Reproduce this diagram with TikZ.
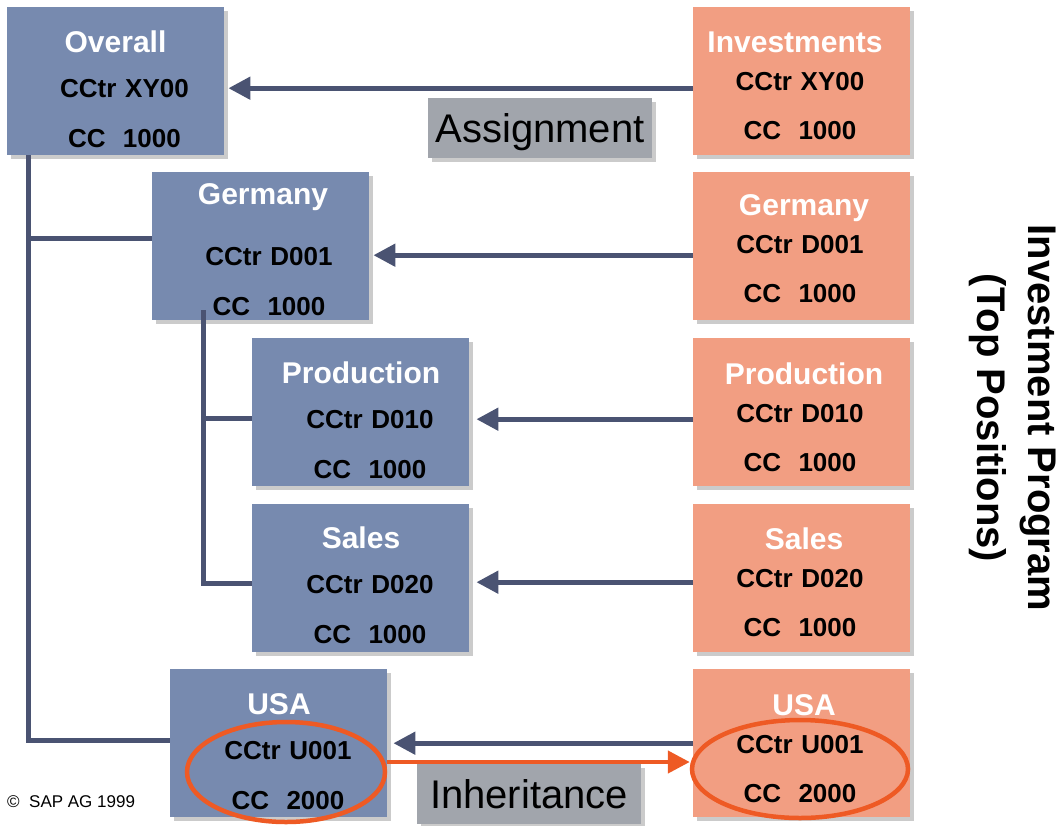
\documentclass[tikz,border=0pt]{standalone}
\usepackage{fontspec}
\setmainfont{Liberation Sans}
\usetikzlibrary{arrows.meta,shapes.geometric,shadows}

\definecolor{ccblue}{HTML}{778AAF}
\definecolor{invsalmon}{HTML}{F29E82}
\definecolor{linkblue}{HTML}{4A5372}
\definecolor{tagfill}{HTML}{A1A5AC}
\definecolor{ringorange}{HTML}{EE5A24}
\definecolor{shade}{HTML}{CBCBCB}

% white heading line inside a box, nudged left / right of the figures below it
\newcommand{\lhead}[2][-18pt]{\hspace*{#1}{\fontsize{30}{30}\selectfont\color{white}#2}}
\newcommand{\rhead}[2][8pt]{\hspace*{#1}{\fontsize{30}{30}\selectfont\color{white}#2}}

\begin{document}
\begin{tikzpicture}[x=1pt,y=-1pt,>={Triangle[length=22pt,width=22pt]}]
  \tikzstyle{ccbox}=[rectangle,anchor=north west,inner sep=0pt,minimum width=217pt,
                     minimum height=148pt,
                     drop shadow={shadow xshift=4pt,shadow yshift=-4pt,fill=shade,opacity=1}]
  \tikzstyle{ctr}=[ccbox,fill=ccblue]
  \tikzstyle{inv}=[ccbox,fill=invsalmon]
  \tikzstyle{ltxt}=[anchor=base,text width=220pt,align=center,inner sep=0pt,
                    font=\fontsize{26}{50}\selectfont\bfseries]
  \tikzstyle{rtxt}=[ltxt,font=\fontsize{26}{49}\selectfont\bfseries]
  \tikzstyle{tag}=[fill=tagfill,minimum width=224pt,minimum height=60pt,inner sep=0pt,
                   text height=29pt,text depth=0pt,font=\fontsize{40}{40}\selectfont,
                   drop shadow={shadow xshift=4pt,shadow yshift=-4pt,fill=shade,opacity=1}]
  \tikzstyle{ring}=[ellipse,draw=ringorange,line width=4.5pt,inner sep=0pt]
  \tikzstyle{link}=[->,draw=linkblue,fill=linkblue,line width=5pt]
  \tikzstyle{inharrow}=[->,draw=ringorange,fill=ringorange,line width=4.5pt]
  \tikzstyle{tree}=[draw=linkblue,line width=5pt]

  \useasboundingbox (0,0) rectangle (1064,825);

  % cost center hierarchy
  \node[ctr] (overall)  at (7,7)     {};
  \node[ctr] (germany)  at (152,172) {};
  \node[ctr] (prod)     at (252,338) {};
  \node[ctr] (sales)    at (252,504) {};
  \node[ctr] (usa)      at (170,669) {};
  % investment program positions
  \node[inv] (invest)   at (693,7)   {};
  \node[inv] (pgermany) at (693,172) {};
  \node[inv] (pprod)    at (693,338) {};
  \node[inv] (psales)   at (693,504) {};
  \node[inv] (pusa)     at (693,669) {};

  % hierarchy lines
  \coordinate (trunk) at (28,155);
  \coordinate (fork)  at (203.5,310);
  \draw[tree] (trunk) |- ([yshift=3pt]usa.west);
  \draw[tree] ([yshift=8pt]germany.west) -| (trunk);
  \draw[tree] ([yshift=-6.5pt]prod.west) -| (fork);
  \draw[tree] ([yshift=-5pt]sales.west)  -| (fork);

  % assignment arrows
  \draw[link,shorten >=4pt] ([yshift=-7pt]invest.west)   -- ([yshift=-7pt]overall.east);
  \draw[link,shorten >=4pt] ([yshift=-9pt]pgermany.west) -- ([yshift=-9pt]germany.east);
  \draw[link,shorten >=7pt] ([yshift=-7pt]pprod.west)    -- ([yshift=-7pt]prod.east);
  \draw[link,shorten >=7pt] ([yshift=-4pt]psales.west)   -- ([yshift=-4pt]sales.east);
  \draw[link,shorten >=6pt] (pusa.west) -- (usa.east);

  \node[tag] (assign)  at (540,128)   {Assignment};
  \node[tag] (inherit) at (529,793.5) {Inheritance};

  % box texts
  \node[ltxt] (overall-t)  at (124.5,52) {\lhead{Overall}\\[-5pt] CCtr XY00\\ CC\ \ 1000};
  \node[ltxt] (germany-t)  at (269,204)  {\lhead[-12pt]{Germany}\\[11pt] CCtr D001\\ CC\ \ 1000};
  \node[ltxt] (prod-t)     at (370,383)  {\lhead{Production}\\[-5pt] CCtr D010\\ CC\ \ 1000};
  \node[ltxt] (sales-t)    at (370,548)  {\lhead{Sales}\\[-5pt] CCtr D020\\ CC\ \ 1000};
  \node[ltxt] (usa-t)      at (288,714)  {\lhead{USA}\\[-5pt] CCtr U001\\ CC\ \ 2000};
  \node[rtxt] (invest-t)   at (800,52)   {\rhead[-10pt]{Investments}\\[-11pt] CCtr XY00\\ CC\ \ 1000};
  \node[rtxt] (pgermany-t) at (800,215)  {\rhead{Germany}\\[-11pt] CCtr D001\\ CC\ \ 1000};
  \node[rtxt] (pprod-t)    at (800,384)  {\rhead{Production}\\[-11pt] CCtr D010\\ CC\ \ 1000};
  \node[rtxt] (psales-t)   at (800,549)  {\rhead{Sales}\\[-11pt] CCtr D020\\ CC\ \ 1000};
  \node[rtxt] (pusa-t)     at (800,715)  {\rhead{USA}\\[-11pt] CCtr U001\\ CC\ \ 2000};

  % inherited company code
  \node[ring,minimum width=198pt,minimum height=100pt] (lring) at (286,772) {};
  \node[ring,minimum width=216pt,minimum height=98pt]  (rring) at (800,769) {};
  \coordinate (inh) at ([yshift=10pt]lring.east);
  \draw[inharrow] (inh) -- (inh -| rring.west);

  \node[rotate=-90,align=center,font=\fontsize{40}{51}\selectfont\bfseries] (program)
       at (1013,418) {Investment Program\\(Top Positions)};
  \node[anchor=base west,inner sep=0pt,font=\fontsize{17}{17}\selectfont] (copy)
       at (7,807) {\textcopyright\ \ SAP AG 1999};
\end{tikzpicture}
\end{document}
